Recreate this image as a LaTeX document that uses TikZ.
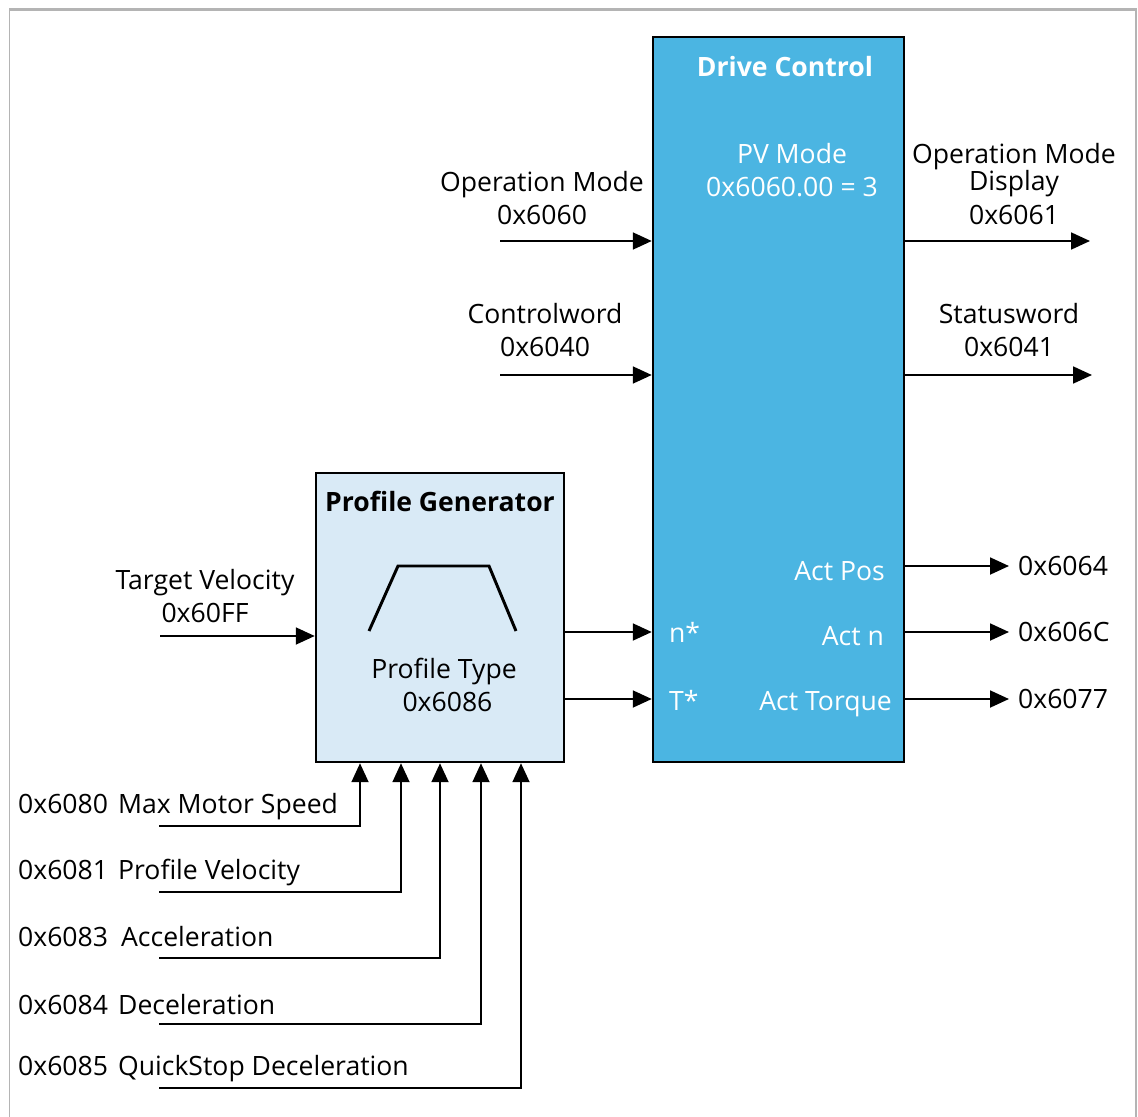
\documentclass[tikz,border=0pt]{standalone}
\usepackage{fontspec}
\setmainfont{Open Sans}
\usetikzlibrary{arrows.meta,positioning}

\definecolor{driveblue}{RGB}{75,181,226}
\definecolor{profblue}{RGB}{217,234,246}
\definecolor{framegray}{RGB}{180,180,180}

\begin{document}
\begin{tikzpicture}[
    x=0.025cm, y=-0.025cm,
    node font=\fontsize{18.9}{24}\selectfont,
    >={Triangle[length=13.5pt,width=12pt]},
    block/.style={draw=black, line width=1.7pt, inner sep=0pt},
    box title/.style={font=\bfseries},
    lbl/.style={align=center},
    sig arrow/.style={->, line width=1.6pt},
]
\useasboundingbox (0,0) rectangle (1138,1117);

% === Frame ===
\draw[framegray, line width=2.1pt] (9,9.5) -- (1137,9.5);
\draw[framegray, line width=1pt] (9.5,9.5) -- (9.5,1117);
\draw[framegray, line width=1.2pt] (1136,9.5) -- (1136,1117);

% === Blocks ===
\node[block, fill=driveblue, minimum width=6.275cm, minimum height=18.125cm] (drive) at (778.5,399.5) {};
\node[block, fill=profblue, minimum width=6.2cm, minimum height=7.225cm] (profile) at (440,617.5) {};

\node[box title, text=white] (drive title) at (785,67) {Drive Control};
\node[box title] (profile title) at (440,501) {Profile Generator};
\node[lbl, text=white] (pv mode) at (792,170) {PV Mode\\0x6060.00 = 3};

% Profile shape
\draw[line width=2.1pt] (369,631) -- (398,566) -- (489,566) -- (516,631);
\node[lbl] (profile type) at (444,685) {Profile Type\\ \ 0x6086};

% === Inputs to drive control ===
\coordinate (opmode in) at (500,241);
\coordinate (ctrl in) at (500,375);
\draw[sig arrow] (opmode in) -- (opmode in -| drive.west);
\draw[sig arrow] (ctrl in) -- (ctrl in -| drive.west);
\node[lbl] (opmode lbl) at (542,198) {Operation Mode\\0x6060};
\node[lbl] (ctrl lbl) at (545,330) {Controlword\\0x6040};

% === Outputs of drive control ===
\coordinate (opdisp out) at (1090,241);
\coordinate (status out) at (1092,375);
\draw[sig arrow] (opdisp out -| drive.east) -- (opdisp out);
\draw[sig arrow] (status out -| drive.east) -- (status out);
\node[lbl] (opdisp lbl) at (1014,184) {Operation Mode\\[-5pt]Display\\0x6061};
\node[lbl] (status lbl) at (1009,330) {Statusword\\0x6041};

% Actual values
\node[text=white, anchor=base east] (act pos) at (894,580) {Act Pos};
\node[text=white, anchor=base east] (act n) at (893,645) {Act n};
\node[text=white, anchor=base east] (act torque) at (901,710) {Act Torque};
\node[anchor=west] (pos obj) at (1009,566) {0x6064};
\node[anchor=west] (n obj) at (1009,632) {0x606C};
\node[anchor=west] (torque obj) at (1009,699) {0x6077};
\foreach \obj in {pos obj, n obj, torque obj}
    \draw[sig arrow] (\obj.west -| drive.east) -- (\obj.west);

% === Profile generator to drive control ===
\node[text=white, anchor=base west] (n star) at (660,642) {n*};
\node[text=white, anchor=base west] (t star) at (660,710) {T*};
\coordinate (nset) at (0,632);
\coordinate (tset) at (0,699);
\draw[sig arrow] (profile.east |- nset) -- (drive.west |- nset);
\draw[sig arrow] (profile.east |- tset) -- (drive.west |- tset);

% Target velocity
\coordinate (target in) at (160,636);
\draw[sig arrow] (target in) -- (target in -| profile.west);
\node[lbl] (target lbl) at (205,596) {Target Velocity\\0x60FF};

% === Profile parameters ===
\foreach \obj/\name/\nx/\ax/\ly/\by in {
    0x6080/Max Motor Speed/118/360/826/813,
    0x6081/Profile Velocity/118/401/892/879,
    0x6083/Acceleration/121/440/958/946,
    0x6084/Deceleration/118/481/1024/1014,
    0x6085/QuickStop Deceleration/118/521/1088/1075}
{
    \node[anchor=base west] (obj \obj) at (9,\by) {\obj};
    \node[anchor=base west] (name \obj) at (\nx-9,\by) {\name};
    \coordinate (feed \obj) at (159,\ly);
    \draw[sig arrow] (feed \obj) -| (\ax,0 |- profile.south);
}

\end{tikzpicture}
\end{document}
